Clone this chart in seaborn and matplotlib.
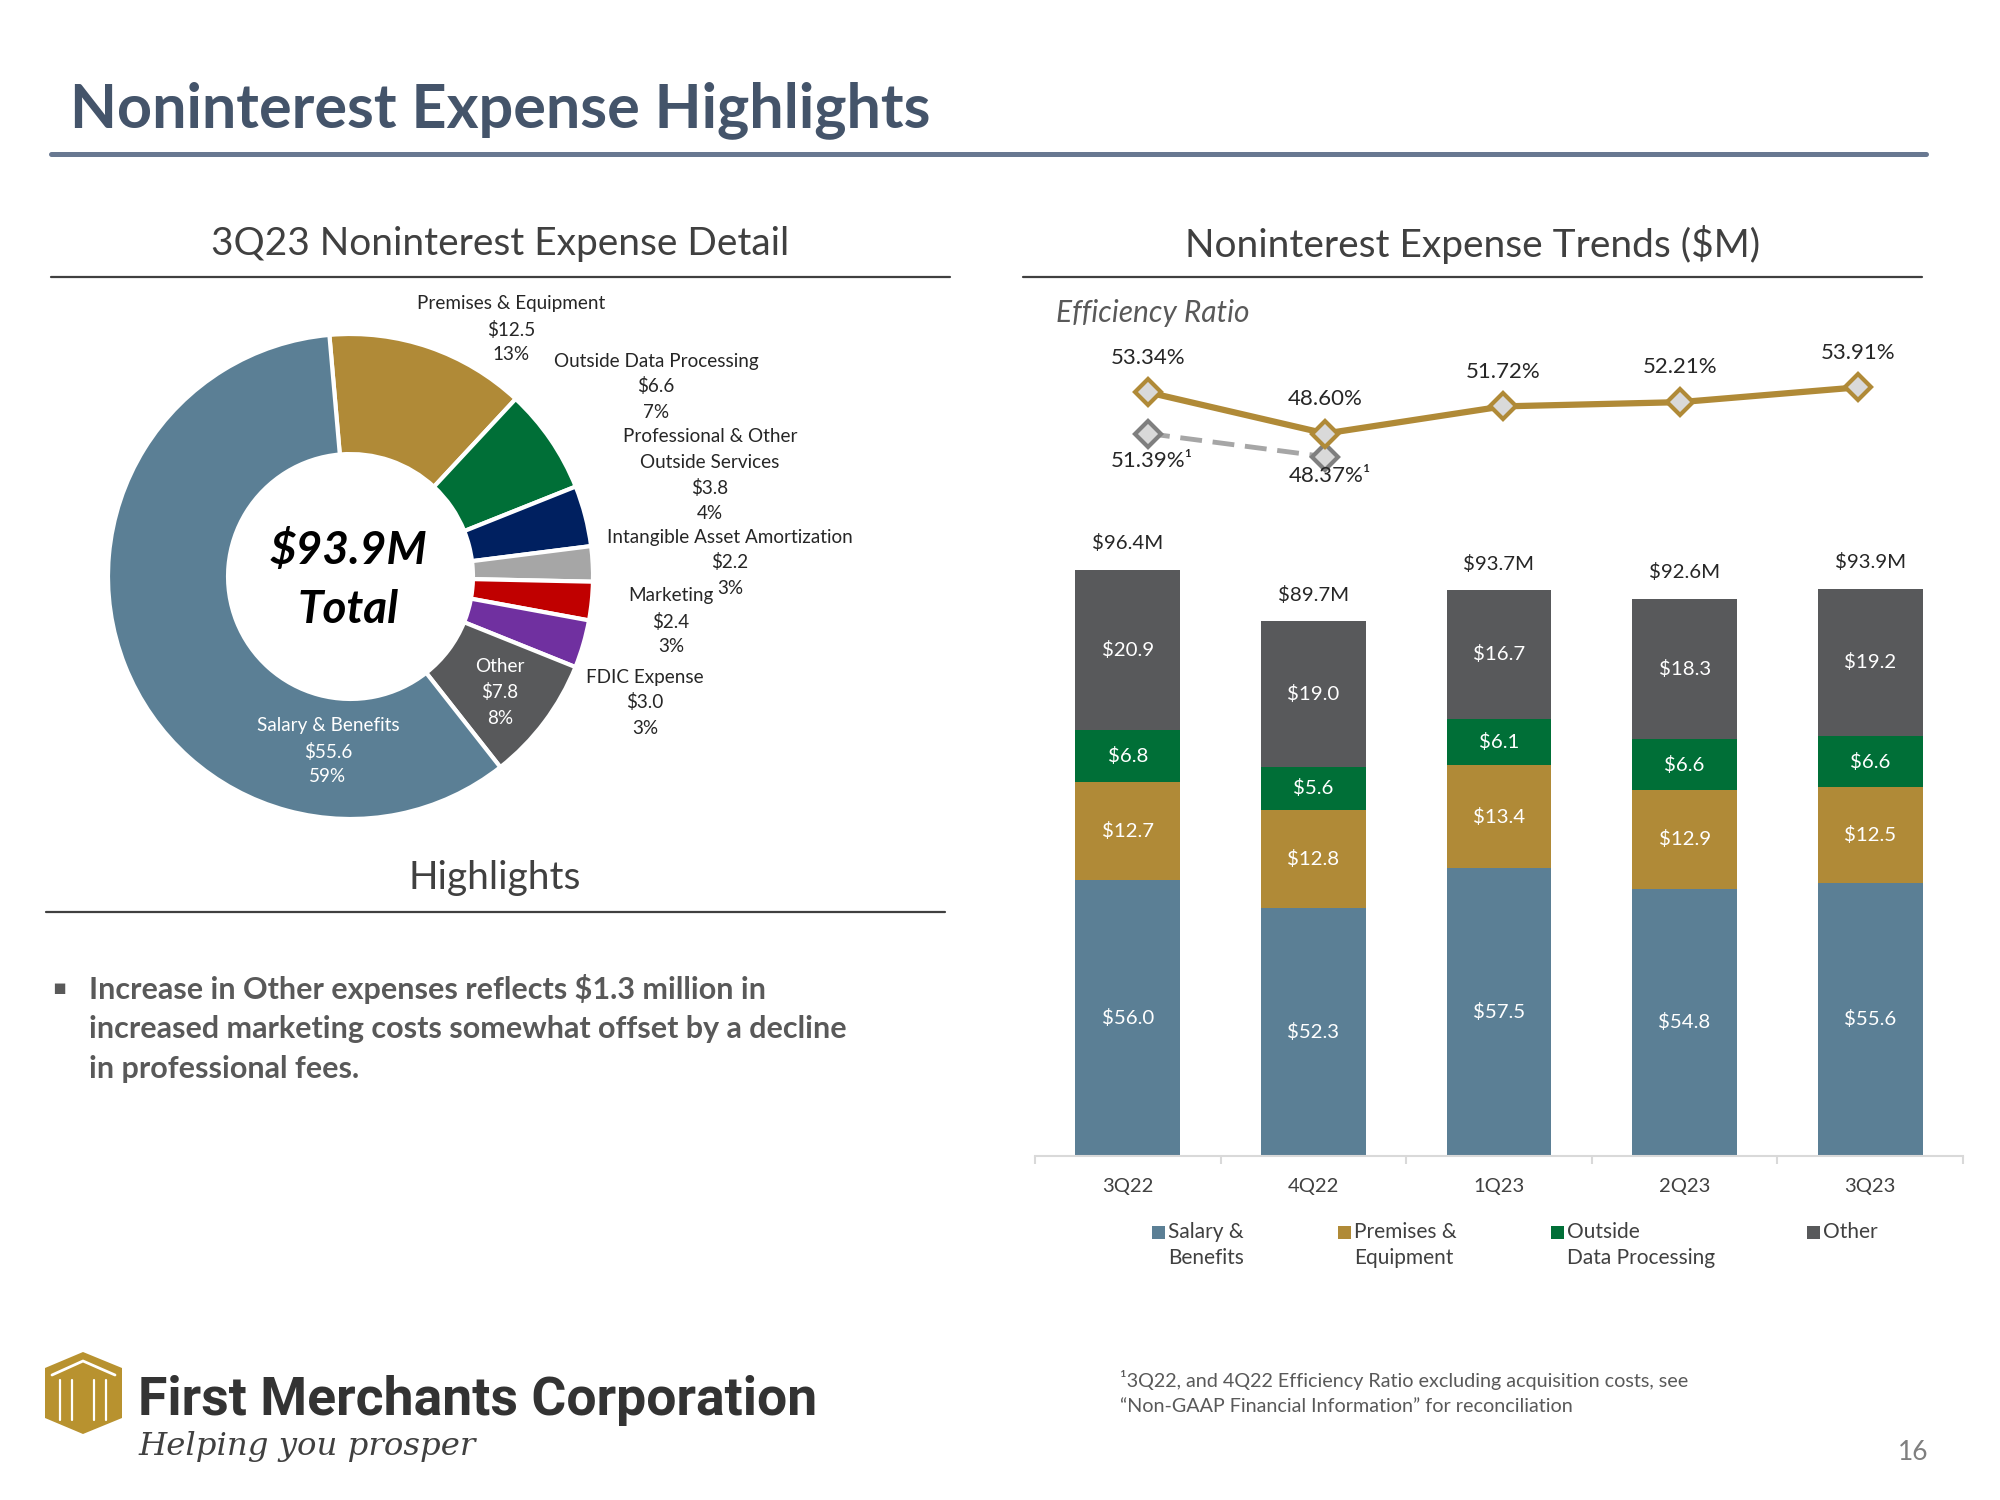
import numpy as np
import pandas as pd
import matplotlib
matplotlib.use("Agg")
import matplotlib.pyplot as plt
from matplotlib.patches import Polygon, Rectangle
from matplotlib.lines import Line2D
import seaborn as sns

# ---------------- data ----------------
pie_labels = ["Premises & Equipment", "Outside Data Processing",
              "Professional & Other\nOutside Services", "Intangible Asset Amortization",
              "Marketing", "FDIC Expense", "Other", "Salary & Benefits"]
pie_values = [12.5, 6.6, 3.8, 2.2, 2.4, 3.0, 7.8, 55.6]
pie_pcts = [13, 7, 4, 3, 3, 3, 8, 59]
pie_total_label = "$93.9M\nTotal"

quarters = ["3Q22", "4Q22", "1Q23", "2Q23", "3Q23"]
salary = [56.0, 52.3, 57.5, 54.8, 55.6]
premises = [12.7, 12.8, 13.4, 12.9, 12.5]
outside_dp = [6.8, 5.6, 6.1, 6.6, 6.6]
other = [20.9, 19.0, 16.7, 18.3, 19.2]
totals = [96.4, 89.7, 93.7, 92.6, 93.9]

eff_ratio = [53.34, 48.60, 51.72, 52.21, 53.91]
eff_adj = [51.39, 48.37]

legend_labels = ["Salary &\nBenefits", "Premises &\nEquipment", "Outside\nData Processing", "Other"]

# ---------------- style ----------------
C_SAL = "#5B7F95"
C_PREM = "#B08A37"
C_ODP = "#006F37"
C_PROF = "#002060"
C_INT = "#A6A6A6"
C_MKT = "#C00000"
C_FDIC = "#7030A0"
C_OTH = "#58595B"
pie_colors = [C_PREM, C_ODP, C_PROF, C_INT, C_MKT, C_FDIC, C_OTH, C_SAL]

sns.set_theme(style="white")
plt.rcParams["font.family"] = ["Lato", "DejaVu Sans"]

W, H = 2000, 1500
fig = plt.figure(figsize=(20, 15), dpi=100)
fig.patch.set_facecolor("white")


def fx(x):
    return x / W


def fy(y):
    return 1 - y / H


def rect(x0, y0, x1, y1):
    return [fx(x0), fy(y1), (x1 - x0) / W, (y1 - y0) / H]


# ---------------- headers ----------------
fig.text(fx(70), fy(110), "Noninterest Expense Highlights", fontsize=44, fontweight="bold",
         color="#44546A", ha="left", va="center")
fig.add_artist(Line2D([fx(51), fx(1926)], [fy(154), fy(154)], color="#687891", lw=3.6))

fig.text(fx(500), fy(244), "3Q23 Noninterest Expense Detail", fontsize=28, color="#404040",
         ha="center", va="center")
fig.add_artist(Line2D([fx(51), fx(950)], [fy(277), fy(277)], color="#404040", lw=1.6))

fig.text(fx(1473), fy(244), "Noninterest Expense Trends ($M)", fontsize=28, color="#404040",
         ha="center", va="center")
fig.add_artist(Line2D([fx(1023), fx(1922)], [fy(277), fy(277)], color="#404040", lw=1.6))

# ---------------- donut ----------------
cx, cy, r = 350.5, 576.5, 242.5
ax_pie = fig.add_axes(rect(cx - r, cy - r, cx + r, cy + r))
ax_pie.pie(pie_values, colors=pie_colors, startangle=95, counterclock=False, radius=1,
           wedgeprops=dict(width=0.495, edgecolor="white", linewidth=3))
ax_pie.set_xlim(-1, 1)
ax_pie.set_ylim(-1, 1)
ax_pie.set_aspect("equal")
ax_pie.axis("off")

tot_lines = pie_total_label.split("\n")
fig.text(fx(348), fy(551), tot_lines[0], fontsize=33, fontweight="bold", fontstyle="italic",
         color="black", ha="center", va="center")
fig.text(fx(348), fy(610), tot_lines[1], fontsize=33, fontweight="bold", fontstyle="italic",
         color="black", ha="center", va="center")

# label layout (positions only): x centre and y of first line
pie_label_pos = [(511, 304), (656, 361), (710, 437), (730, 537),
                 (671, 596), (645, 677), (500, 667), (328, 726)]
pie_label_col = ["#262626"] * 6 + ["white", "white"]
LINE_PITCH = 25.5
for lab, v, p, pos, col in zip(pie_labels, pie_values, pie_pcts, pie_label_pos, pie_label_col):
    parts = lab.split("\n") + [f"${v:.1f}", f"{p}%"]
    for j, part in enumerate(parts):
        fig.text(fx(pos[0]), fy(pos[1] + LINE_PITCH * j), part, fontsize=13.6, color=col,
                 ha="center", va="center")

# ---------------- highlights ----------------
fig.text(fx(495), fy(878), "Highlights", fontsize=28, color="#404040", ha="center", va="center")
fig.add_artist(Line2D([fx(46), fx(945)], [fy(912), fy(912)], color="#404040", lw=1.6))
fig.text(fx(59), fy(988), "\u25aa", family=["DejaVu Sans"], fontsize=15, color="#595959",
         ha="center", va="center")
bullet_lines = ["Increase in Other expenses reflects $1.3 million in",
                "increased marketing costs somewhat offset by a decline",
                "in professional fees."]
for i, t in enumerate(bullet_lines):
    fig.text(fx(89), fy(989 + 40 * i), t, fontsize=22, fontweight="bold", color="#595959",
             ha="left", va="center")

# ---------------- efficiency ratio line ----------------
fig.text(fx(1056), fy(313), "Efficiency Ratio", fontsize=21.5, fontstyle="italic",
         color="#595959", ha="left", va="center")

line_rect = rect(1035, 340, 1963, 480)
ax_adj = fig.add_axes(line_rect)
ax_line = fig.add_axes(line_rect)
for a in (ax_adj, ax_line):
    a.patch.set_alpha(0)

sns.lineplot(x=np.arange(len(eff_adj)), y=eff_adj, ax=ax_adj, color="#A6A6A6", linewidth=3.5,
             marker="D", markersize=13, markeredgecolor="#7F7F7F", markerfacecolor="#D9D9D9",
             markeredgewidth=3)
for ln in ax_adj.lines:
    ln.set_dashes((4.5, 2.2))
sns.lineplot(x=np.arange(len(eff_ratio)), y=eff_ratio, ax=ax_line, color=C_PREM, linewidth=4.5,
             marker="D", markersize=13, markeredgecolor=C_PREM, markerfacecolor="#D9D9D9",
             markeredgewidth=3)

ax_line.set_xlim(-0.637, 4.594)
ax_line.set_ylim(43.25, 59.36)
ax_adj.set_xlim(-0.637, 4.594)
ax_adj.set_ylim(45.34, 63.56)
for a in (ax_adj, ax_line):
    a.axis("off")

for i, v in enumerate(eff_ratio):
    ax_line.annotate(f"{v:.2f}%", (i, v), xytext=(0, 25), textcoords="offset points",
                     ha="center", va="center", fontsize=16, color="#262626")
adj_offsets = [-20, -14]
for i, (v, off) in enumerate(zip(eff_adj, adj_offsets)):
    ax_adj.annotate(f"{v:.2f}%\u00b9", (i, v), xytext=(3, off), textcoords="offset points",
                    ha="center", va="center", fontsize=16, color="#262626")

# ---------------- stacked bars ----------------
df = pd.DataFrame({"quarter": quarters, "salary": salary, "premises": premises,
                   "outside_dp": outside_dp, "other": other})
df["c1"] = df["salary"]
df["c2"] = df["c1"] + df["premises"]
df["c3"] = df["c2"] + df["outside_dp"]
df["c4"] = df["c3"] + df["other"]

ax_bar = fig.add_axes(rect(1035, 542, 1963, 1156))
ax_bar.patch.set_alpha(0)
for col, c in [("c4", C_OTH), ("c3", C_ODP), ("c2", C_PREM), ("c1", C_SAL)]:
    sns.barplot(data=df, x="quarter", y=col, color=c, saturation=1, width=0.565,
                ax=ax_bar, linewidth=0, errorbar=None)
ax_bar.set_xlim(-0.5, len(quarters) - 0.5)
ax_bar.set_ylim(20, 100)
ax_bar.set_xlabel("")
ax_bar.set_ylabel("")
ax_bar.set_yticks([])
for s in ["top", "right", "left"]:
    ax_bar.spines[s].set_visible(False)
ax_bar.spines["bottom"].set_color("#D9D9D9")
ax_bar.spines["bottom"].set_linewidth(1.5)
ax_bar.tick_params(axis="x", which="major", length=0, pad=15.5, labelsize=14.5, labelcolor="#404040")
ax_bar.set_xticks(np.arange(-0.5, len(quarters), 1), minor=True)
ax_bar.tick_params(axis="x", which="minor", length=6, width=1.5, color="#D9D9D9", bottom=True)

ylo = ax_bar.get_ylim()[0]
segs = [("salary", None), ("premises", "c1"), ("outside_dp", "c2"), ("other", "c3")]
for i in range(len(quarters)):
    for name, below in segs:
        lo = 0 if below is None else df[below][i]
        hi = lo + df[name][i]
        yc = (max(lo, ylo) + hi) / 2
        ax_bar.text(i, yc, f"${df[name][i]:.1f}", ha="center", va="center", fontsize=14.7,
                    color="white")
    ax_bar.annotate(f"${totals[i]:.1f}M", (i, df["c4"][i]), xytext=(0, 19),
                    textcoords="offset points", ha="center", va="center", fontsize=14.7,
                    color="#262626", annotation_clip=False)

# legend (manual layout so that the swatch sits on the first text line)
leg_colors = [C_SAL, C_PREM, C_ODP, C_OTH]
leg_x = [1152, 1338, 1551, 1807]
for xl, c, lab in zip(leg_x, leg_colors, legend_labels):
    fig.add_artist(Rectangle((fx(xl), fy(1239)), 13 / W, 13 / H, facecolor=c, edgecolor="none"))
    for j, part in enumerate(lab.split("\n")):
        fig.text(fx(xl + 16), fy(1232 + 26 * j), part, fontsize=15, color="#404040",
                 ha="left", va="center")

# ---------------- footer ----------------
gold = "#B8922F"
fig.add_artist(Polygon([(fx(45), fy(1368)), (fx(83), fy(1352)), (fx(122), fy(1368)),
                        (fx(122), fy(1418)), (fx(83), fy(1434)), (fx(45), fy(1418))],
                       closed=True, facecolor=gold, edgecolor="none"))
fig.add_artist(Line2D([fx(52), fx(83), fx(115)], [fy(1375), fy(1361), fy(1375)],
                      color="white", lw=2))
for xv in (60, 72, 94, 106):
    fig.add_artist(Line2D([fx(xv), fx(xv)], [fy(1380), fy(1420)], color="white", lw=1.6))

fig.text(fx(138), fy(1400), "First Merchants Corporation", fontsize=38.5, fontweight="bold",
         family=["Roboto", "DejaVu Sans"], color="#333333",
         ha="left", va="center")
fig.text(fx(138), fy(1447), "Helping you prosper", fontsize=23.3, fontstyle="italic",
         family=["DejaVu Serif"], color="#404040", ha="left", va="center")

fig.text(fx(1120), fy(1380), "\u00b93Q22, and 4Q22 Efficiency Ratio excluding acquisition costs, see",
         fontsize=14.2, color="#595959", ha="left", va="center")
fig.text(fx(1120), fy(1407), "\u201cNon-GAAP Financial Information\u201d for reconciliation",
         fontsize=14.2, color="#595959", ha="left", va="center")
fig.text(fx(1913), fy(1452), "16", fontsize=19, color="#7F7F7F", ha="center", va="center")

fig.savefig("out.png", dpi=100, facecolor="white")
